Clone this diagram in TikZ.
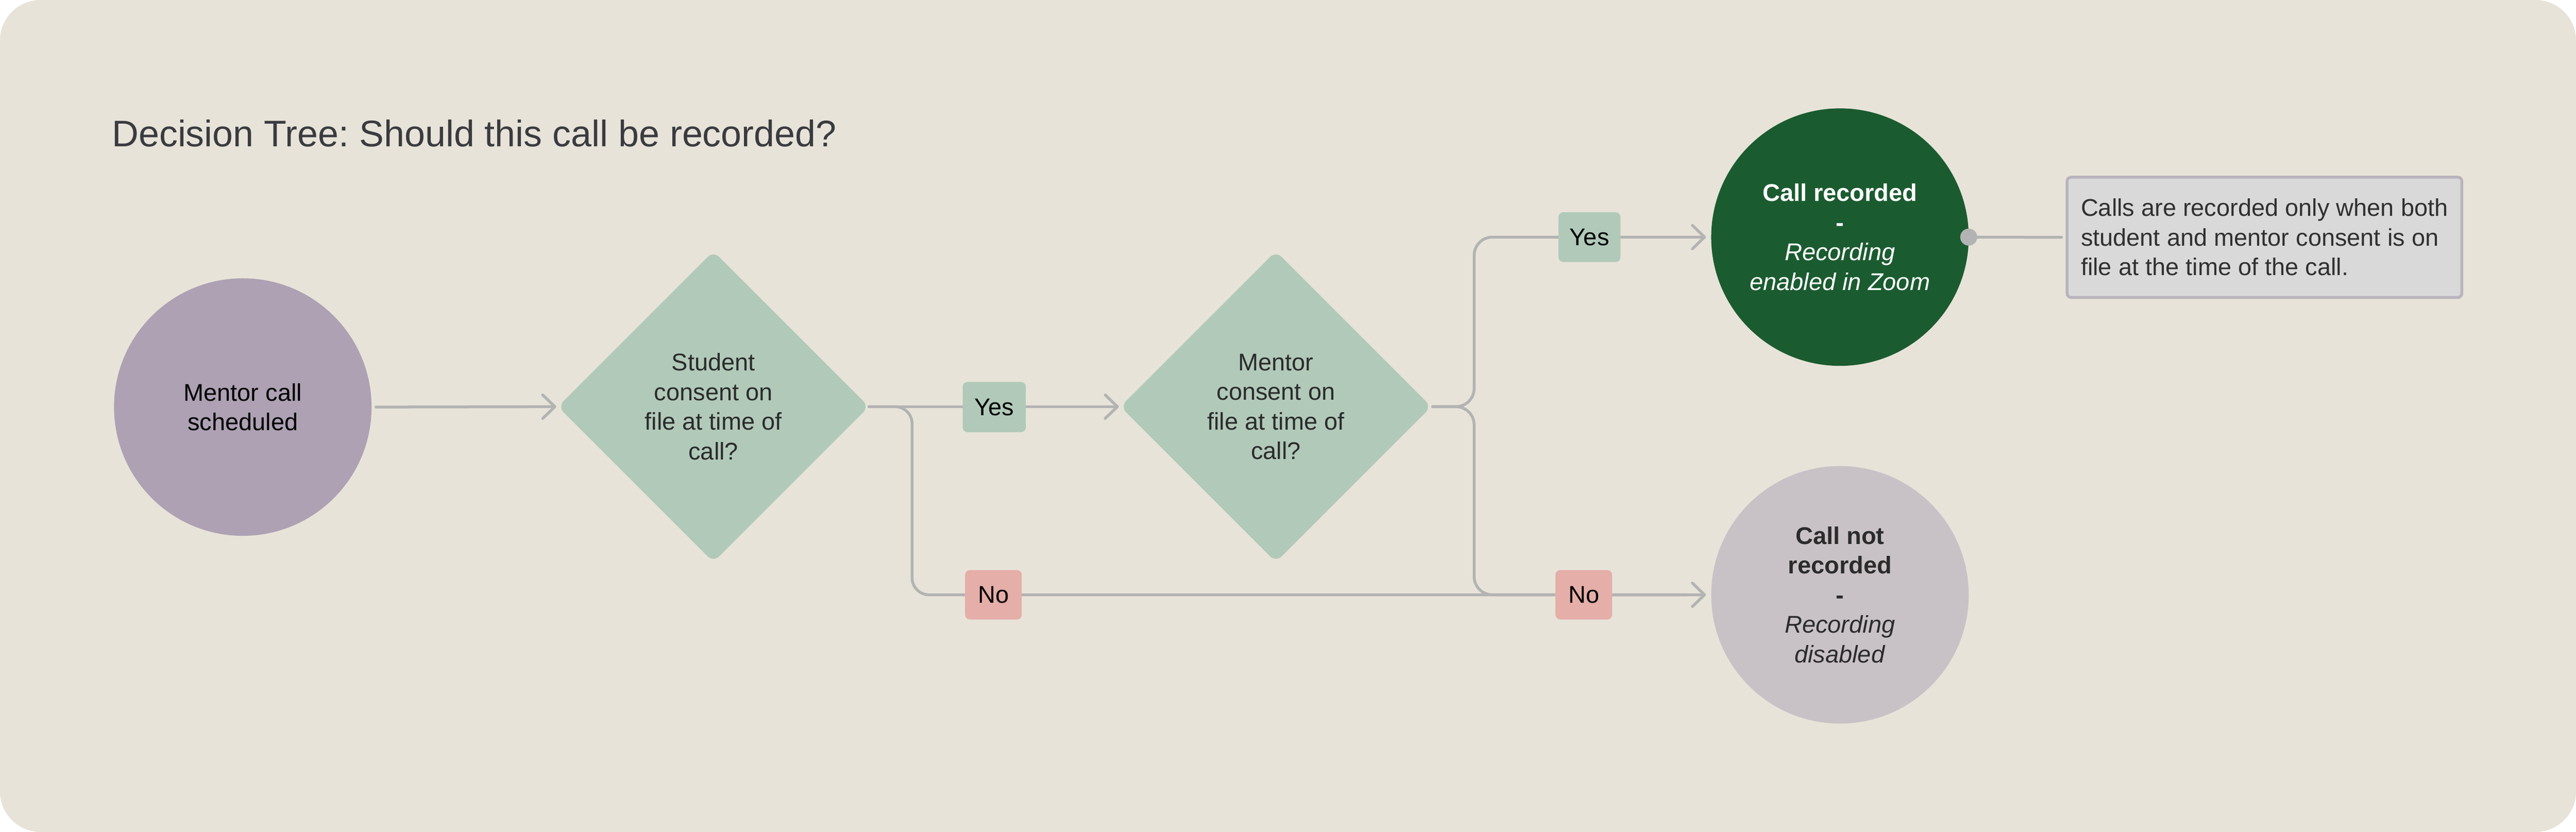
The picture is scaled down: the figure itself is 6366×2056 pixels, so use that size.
\documentclass[tikz,border=0pt]{standalone}
\usepackage{fontspec}
\setmainfont{Liberation Sans}
\usetikzlibrary{arrows.meta,shapes.geometric}
\definecolor{bg}{HTML}{E7E3D8}
\definecolor{mcol}{HTML}{ADA1B3}
\definecolor{dgreen}{HTML}{B1C9B9}
\definecolor{nocol}{HTML}{E5AEA8}
\definecolor{reccol}{HTML}{1B5B30}
\definecolor{nrcol}{HTML}{C8C2C6}
\definecolor{notefill}{HTML}{D9D9D9}
\definecolor{notebd}{HTML}{B9B3BD}
\definecolor{linegray}{HTML}{B3B3B3}
\definecolor{titlecol}{HTML}{3A3B40}
\definecolor{txtdark}{HTML}{2B2B2B}
\definecolor{txtnote}{HTML}{303030}
\newcommand\myNodeFont{\fontsize{17pt}{20.8pt}\selectfont}
\newcommand\myTitleFont{\fontsize{26pt}{31pt}\selectfont}
\frenchspacing
\begin{document}
\begin{tikzpicture}[x=0.01cm, y=-0.01cm,
  conn/.style={draw=linegray, line width=0.07cm, line cap=round, line join=round},
  tipped/.style={-{Straight Barb[length=0.3cm,width=0.58cm,line cap=round,line join=round]}},
  endnode/.style={circle, minimum size=6.36cm, inner sep=0pt, outer sep=0pt, align=center, font=\myNodeFont},
  decision/.style={diamond, aspect=1, minimum width=7.68cm, minimum height=7.68cm, inner sep=0pt, outer sep=0pt, fill=dgreen, rounded corners=0.2cm, align=center, font=\myNodeFont, text=txtdark},
  lbl/.style={rectangle, rounded corners=0.12cm, inner sep=0pt, outer sep=0pt, font=\myNodeFont, text=black},
  note/.style={rectangle, draw=notebd, line width=0.07cm, fill=notefill, rounded corners=0.1cm, minimum width=9.75cm, minimum height=2.97cm, align=left, font=\myNodeFont, text=txtnote, inner sep=0pt}
]
\useasboundingbox (0,0) rectangle (6366,2056);
\fill[white] (0,0) rectangle (6366,2056);
\fill[bg, rounded corners=1cm] (0,0) rectangle (6366,2056);

\node[anchor=base west, font=\myTitleFont, text=titlecol, inner sep=0pt] (title) at (276,362) {Decision Tree: Should this call be recorded?};

\node[endnode, fill=mcol, text=black] (mc) at (600,1006) {Mentor call\\scheduled};
\node[decision] (d1) at (1763,1005) {Student\\consent on\\file at time of\\call?};
\node[decision] (d2) at (3153,1005) {Mentor\\consent on\\file at time of\\call?};
\node[endnode, fill=reccol, text=white] (rec) at (4547,586) {\textbf{Call recorded}\\\textbf{-}\\\textit{Recording}\\\textit{enabled in Zoom}};
\node[endnode, fill=nrcol, text=txtdark] (nr) at (4547,1470) {\textbf{Call not}\\\textbf{recorded}\\\textbf{-}\\\textit{Recording}\\\textit{disabled}};
\node[note] (note) at (5596,586.5) {Calls are recorded only when both\\student and mentor consent is on\\file at the time of the call.};

\coordinate (b1) at (2254,1470);
\coordinate (b2) at (3643,586);
\coordinate (b3) at (3643,1470);

\draw[conn, tipped, shorten <=0.11cm, shorten >=0.04cm] (mc.east) -- (d1.west);
\draw[conn, tipped, shorten >=0.04cm] (d1.east) -- (d2.west);
\draw[conn, tipped, rounded corners=0.42cm, shorten >=0.13cm] (d1.east) -| (b1) -- (nr.west);
\draw[conn, tipped, rounded corners=0.45cm, shorten <=0.03cm, shorten >=0.13cm] (d2.east) -| (b2) -- (rec.west);
\draw[conn, rounded corners=0.45cm, shorten <=0.03cm, shorten >=0.6cm] (d2.east) -| (b3) -- (nr.west);
\draw[conn, shorten >=0.1cm] (rec.east) -- (note.west);
\fill[linegray] (rec.east) circle[radius=0.21cm];

\node[lbl, fill=dgreen, minimum width=1.56cm, minimum height=1.24cm] (y1) at (2457,1006) {Yes};
\node[lbl, fill=nocol, minimum width=1.40cm, minimum height=1.22cm] (n1) at (2455,1470) {No};
\node[lbl, fill=dgreen, minimum width=1.53cm, minimum height=1.23cm] (y2) at (3928,586) {Yes};
\node[lbl, fill=nocol, minimum width=1.40cm, minimum height=1.22cm] (n2) at (3914,1470) {No};
\end{tikzpicture}
\end{document}
